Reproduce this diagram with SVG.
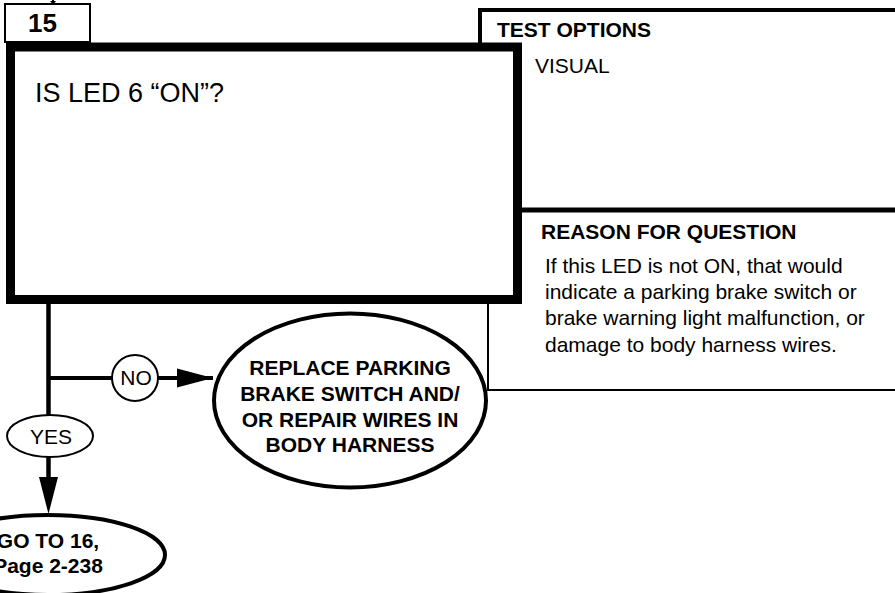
<svg xmlns="http://www.w3.org/2000/svg" width="895" height="593" viewBox="0 0 895 593">
<style>
text{font-family:"Liberation Sans",Arial,sans-serif;fill:#000}
.b{font-weight:bold}
.s{font-size:21px}
.c{text-anchor:middle}
.ln{stroke:#000;fill:none}
</style>
<defs>
<marker id="ah" markerWidth="10" markerHeight="10" refX="10" refY="5" orient="auto" markerUnits="userSpaceOnUse" viewBox="0 0 10 10" preserveAspectRatio="none">
<path d="M0,0 L10,5 L0,10 Z" fill="#000"/>
</marker>
</defs>
<rect width="895" height="593" fill="#fff"/>
<g id="side-panels">
<path class="ln" d="M480,44 V10 H895" stroke-width="4"/>
<path class="ln" d="M522,210 H895" stroke-width="5"/>
<path class="ln" d="M488,304 V390 H895" stroke-width="2"/>
<text class="s b" x="497" y="37">TEST OPTIONS</text>
<text class="s" x="535" y="73">VISUAL</text>
<text class="s b" x="541" y="239">REASON FOR QUESTION</text>
<text class="s" x="545" y="273">If this LED is not ON, that would</text>
<text class="s" x="545" y="299">indicate a parking brake switch or</text>
<text class="s" x="545" y="325">brake warning light malfunction, or</text>
<text class="s" x="545" y="352">damage to body harness wires.</text>
</g>
<g id="step-number">
<rect x="5" y="4" width="85" height="38" fill="#fff" stroke="#000" stroke-width="2"/>
<text class="b" x="28" y="32" font-size="26">15</text>
</g>
<g id="question">
<rect x="10.5" y="47" width="507" height="252.5" fill="#fff" stroke="#000" stroke-width="9"/>
<text x="35" y="102" font-size="27">IS LED 6 “ON”?</text>
</g>
<g id="connectors">
<line class="ln" x1="53" y1="0" x2="53" y2="2" stroke-width="2"/>
<path d="M50,1 L56,1 L53,5 Z" fill="#000"/>
<line class="ln" x1="48.5" y1="304" x2="48.5" y2="415" stroke-width="4.5"/>
<line class="ln" x1="48.5" y1="378" x2="112" y2="378" stroke-width="4"/>
<line class="ln" x1="158" y1="378" x2="213" y2="378" stroke-width="4"/>
<path d="M177,368.5 L213,378 L177,387.5 Z" fill="#000"/>
<line class="ln" x1="48.5" y1="457" x2="48.5" y2="480" stroke-width="4.5"/>
<path d="M39,477 L58,477 L48.5,514 Z" fill="#000"/>
</g>
<g id="no-label">
<circle cx="135" cy="378" r="23" fill="#fff" stroke="#000" stroke-width="2"/>
<text class="s c" x="136" y="385">NO</text>
</g>
<g id="yes-label">
<ellipse cx="50" cy="436" rx="43" ry="21" fill="#fff" stroke="#000" stroke-width="2"/>
<text class="s c" x="51" y="444">YES</text>
</g>
<g id="replace">
<ellipse cx="350" cy="400.5" rx="136" ry="87" fill="#fff" stroke="#000" stroke-width="4"/>
<text class="s b c" x="350" y="375">REPLACE PARKING</text>
<text class="s b c" x="350" y="401">BRAKE SWITCH AND/</text>
<text class="s b c" x="350" y="427">OR REPAIR WIRES IN</text>
<text class="s b c" x="350" y="452">BODY HARNESS</text>
</g>
<g id="goto">
<ellipse cx="48" cy="555" rx="117" ry="40" fill="#fff" stroke="#000" stroke-width="4"/>
<text class="s b c" x="48" y="548">GO TO 16,</text>
<text class="s b c" x="48" y="573">Page 2-238</text>
</g>
</svg>
